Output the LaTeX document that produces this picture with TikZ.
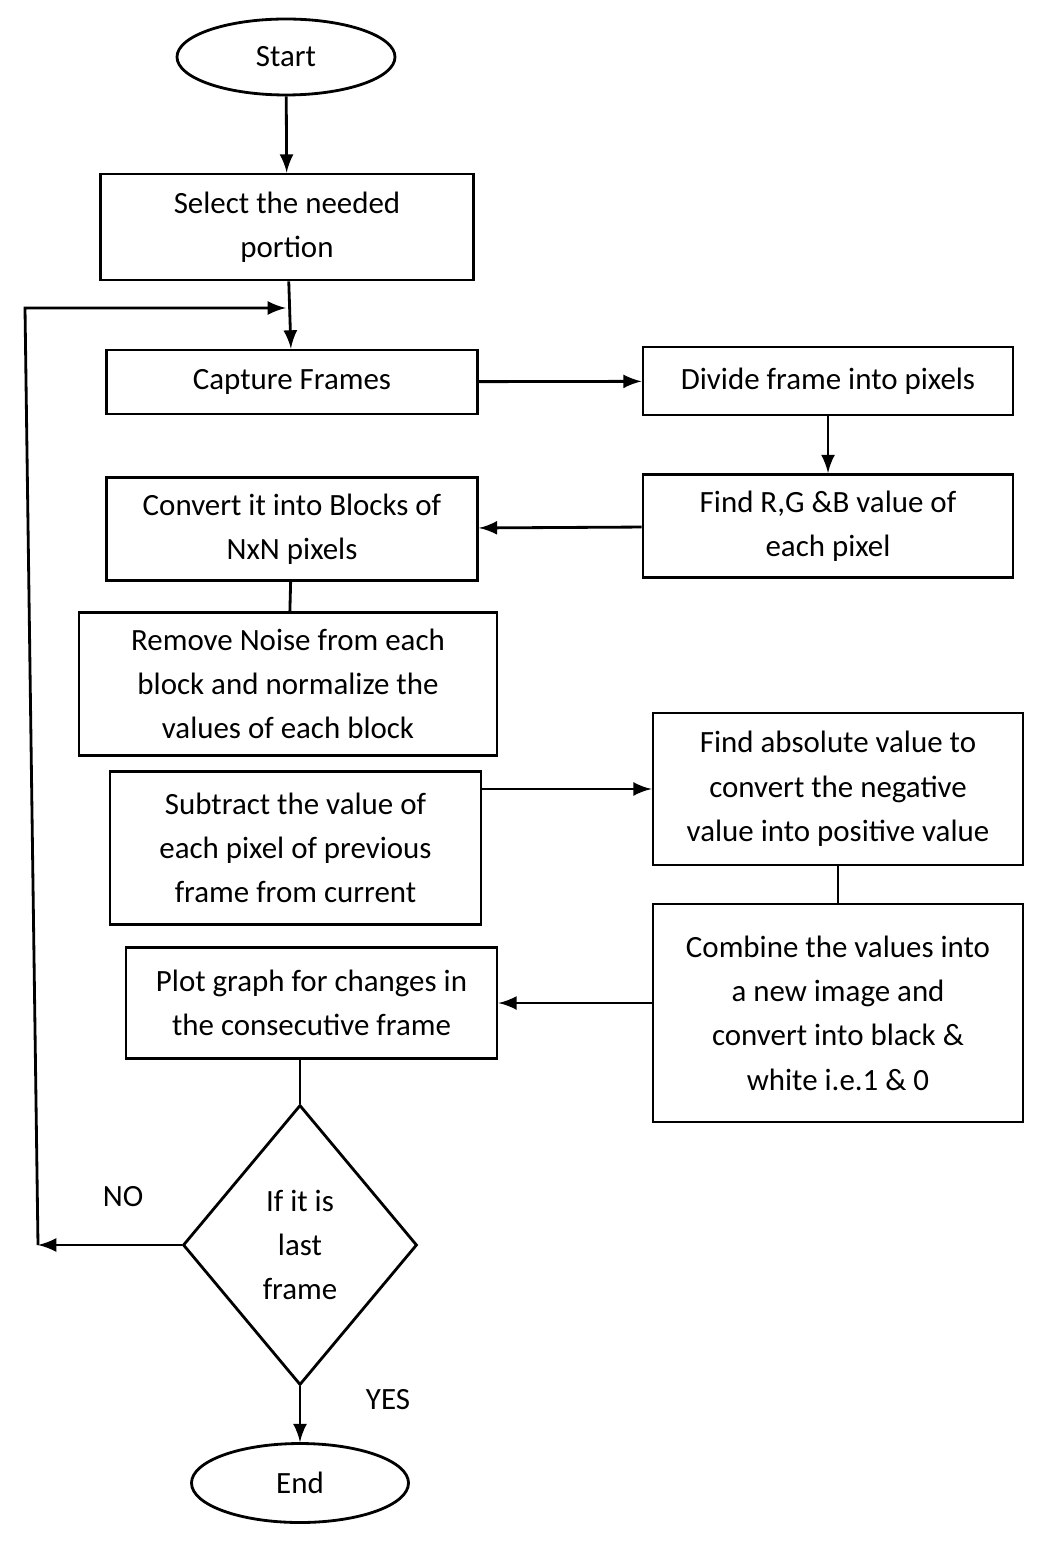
\documentclass[tikz,border=0pt]{standalone}
\usepackage{fontspec}
\setmainfont{Carlito}
\usetikzlibrary{shapes.geometric}
\tikzset{
  stepbox/.style={draw,thick,align=center,inner sep=2pt,font=\fontsize{8.8}{12.6}\selectfont},
  term/.style={draw,thick,ellipse,font=\fontsize{8.8}{12.6}\selectfont},
  flow/.style={thick,-latex},
}
\begin{document}
\begin{tikzpicture}
\useasboundingbox (0,0) rectangle (10.42,-15.48);

%terminals
\node [term,minimum width=2.18cm,minimum height=0.76cm] (start) at (2.86,-0.57) {Start};
\node [term,minimum width=2.17cm,minimum height=0.79cm] (end) at (3.00,-14.83) {End};

%left column
\node [stepbox,minimum width=3.73cm,minimum height=1.06cm] (select) at (2.87,-2.27) {Select the needed\\portion};
\node [stepbox,minimum width=3.71cm,minimum height=0.64cm] (capture) at (2.92,-3.82) {Capture Frames};
\node [stepbox,minimum width=3.71cm,minimum height=1.03cm] (blocks) at (2.92,-5.29) {Convert it into Blocks of\\NxN pixels};
\node [stepbox,minimum width=4.18cm,minimum height=1.43cm] (noise) at (2.88,-6.84) {Remove Noise from each\\block and normalize the\\values of each block};
\node [stepbox,minimum width=3.71cm,minimum height=1.53cm] (subtract) at (2.955,-8.48) {Subtract the value of\\each pixel of previous\\frame from current};
\node [stepbox,minimum width=3.71cm,minimum height=1.11cm] (plot) at (3.115,-10.03) {Plot graph for changes in\\the consecutive frame};
\node [stepbox,diamond,aspect=0.84,minimum width=2.34cm,minimum height=2.80cm,inner sep=0pt] (last) at (3.00,-12.45) {If it is\\last\\frame};

%right column
\node [stepbox,minimum width=3.70cm,minimum height=0.68cm] (divide) at (8.28,-3.81) {Divide frame into pixels};
\node [stepbox,minimum width=3.70cm,minimum height=1.03cm] (rgb) at (8.28,-5.26) {Find R,G \&B value of\\each pixel};
\node [stepbox,minimum width=3.70cm,minimum height=1.52cm] (absolute) at (8.38,-7.89) {Find absolute value to\\convert the negative\\value into positive value};
\node [stepbox,minimum width=3.70cm,minimum height=2.18cm] (combine) at (8.38,-10.13) {Combine the values into\\a new image and\\convert into black \&\\white i.e.1 \& 0};

%labels
\node (no) at (1.23,-11.97) {\fontsize{8.8}{12.6}\selectfont NO};
\node (yes) at (3.88,-14.00) {\fontsize{8.8}{12.6}\selectfont YES};

%connectors
\draw [flow] (start) -- (select);
\draw [flow] (select) -- (capture);
\draw [flow] (capture) -- (divide);
\draw [flow] (divide) -- (rgb);
\draw [flow] (rgb) -- (blocks);
\draw [thick] (blocks) -- (noise);
\draw [flow] (subtract.east |- absolute.west) -- (absolute.west);
\draw [thick] (absolute) -- (combine);
\draw [flow] (combine.west |- plot.east) -- (plot.east);
\draw [thick] (plot.south -| last.north) -- (last.north);
\draw [flow] (last) -- (end);
\coordinate (loop) at (0.38,-12.45);
\coordinate (back) at (2.86,-3.08);
\draw [flow] (last.west) -- (loop);
\draw [flow] (loop) -- (0.25,-3.08) -- (back);
\end{tikzpicture}
\end{document}
